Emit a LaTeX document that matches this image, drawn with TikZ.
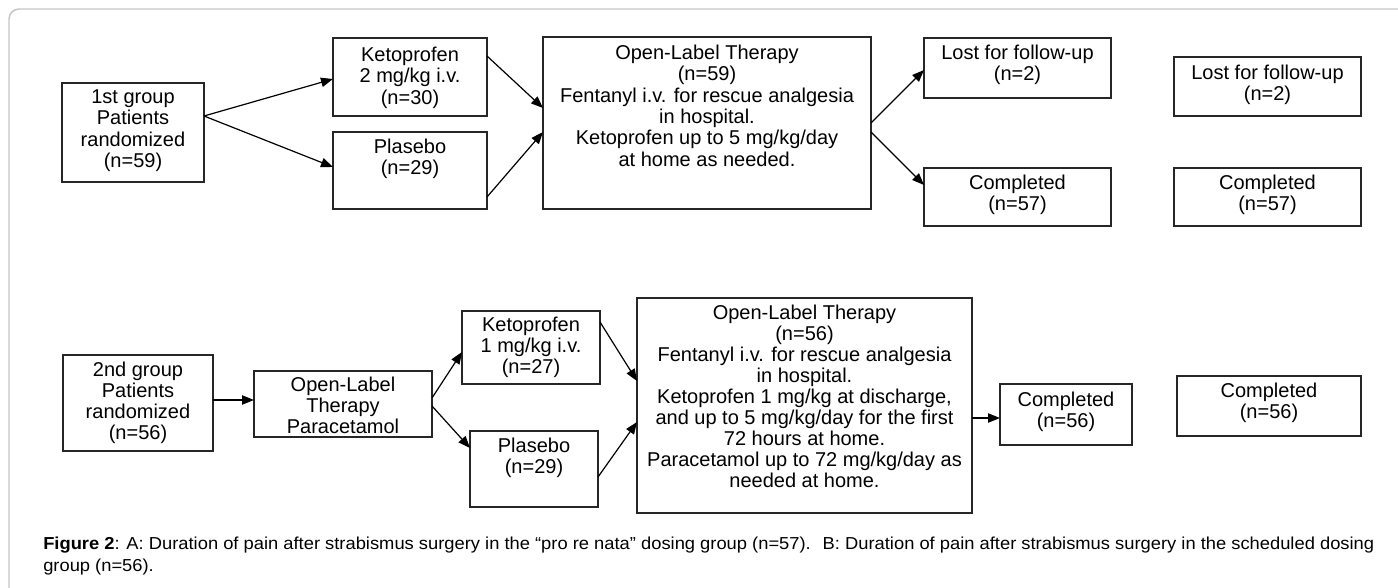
\documentclass[tikz,border=0pt]{standalone}
\usepackage{fontspec}
\setmainfont{Liberation Sans}
\usetikzlibrary{arrows.meta,calc}
\newdimen\p \p=0.75pt
\newcommand{\bxt}[4]{\parbox[c][#2\p][t]{#1\p}{\centering\rule{0pt}{#3\p}#4}}
\newsavebox{\capbox}
\definecolor{framegray}{HTML}{C4C4C4}
\begin{document}
\sbox{\capbox}{\fontsize{13}{15}\selectfont\textbf{Figure 2}: A: Duration of pain after strabismus surgery in the “pro re nata” dosing group (n=57).~ B: Duration of pain after strabismus surgery in the scheduled dosing}%
\pgfmathsetmacro{\capsc}{998.25/\the\wd\capbox}%
\begin{tikzpicture}[x=0.75pt,y=-0.75pt,
  box/.style={draw=black!85, line width=1pt, inner sep=0pt, outer sep=0pt, anchor=north west},
  toprow/.style={font=\fontsize{15}{16}\selectfont},
  botrow/.style={font=\fontsize{15}{15.75}\selectfont},
  arr/.style={draw=black, line width=0.9pt, -{Triangle[length=9pt,width=7pt]}}]
\useasboundingbox (0,0) rectangle (1398,588);
\draw[framegray, line width=1.1pt, rounded corners=7.5pt] (9,588) -- (9,9) -- (1398,9);

% ---- first group ----
\node[box,toprow] (g1) at (62,83) {\bxt{142}{99}{20.5}{1st group\\Patients\\randomized\\(n=59)}};
\node[box,toprow] (k2) at (333,38) {\bxt{154}{78}{23.5}{Ketoprofen\\2 mg/kg i.v.\\(n=30)}};
\node[box,toprow] (pl1) at (333,132) {\bxt{154}{77}{21.5}{Plasebo\\(n=29)}};
\node[box,toprow] (ol1) at (543,37) {\bxt{328}{172}{22.5}{Open-Label Therapy\\(n=59)\\Fentanyl i.v. for rescue analgesia\\in hospital.\\Ketoprofen up to 5 mg/kg/day\\at home as needed.}};
\node[box,toprow] (lo1) at (924,38) {\bxt{187}{60}{21.5}{Lost for follow-up\\(n=2)}};
\node[box,toprow] (c1) at (924,168) {\bxt{187}{58}{21.5}{Completed\\(n=57)}};
\node[box,toprow] (lo2) at (1174,57) {\bxt{187}{59}{22.5}{Lost for follow-up\\(n=2)}};
\node[box,toprow] (c2) at (1174,168) {\bxt{187}{58}{21.5}{Completed\\(n=57)}};

\draw[arr] ($(g1.north east)+(0,33)$) -- ($(k2.north west)+(0,41)$);
\draw[arr] ($(g1.north east)+(0,33)$) -- ($(pl1.north west)+(0,35)$);
\draw[arr] ($(k2.north east)+(0,18)$) -- ($(ol1.north west)+(0,71)$);
\draw[arr] ($(pl1.north east)+(0,65)$) -- ($(ol1.north west)+(0,95)$);
\draw[arr] ($(ol1.north east)+(0,86)$) -- ($(lo1.north west)+(0,32)$);
\draw[arr] ($(ol1.north east)+(0,95)$) -- ($(c1.north west)+(0,17)$);

% ---- second group ----
\node[box,botrow] (g2) at (63,355) {\bxt{150}{96}{21.5}{2nd group\\Patients\\randomized\\(n=56)}};
\node[box,botrow] (olp) at (254,371) {\bxt{178}{66}{20.5}{Open-Label\\Therapy\\Paracetamol}};
\node[box,botrow] (k1) at (462,311) {\bxt{138}{73}{20.5}{Ketoprofen\\1 mg/kg i.v.\\(n=27)}};
\node[box,botrow] (pl2) at (470,431) {\bxt{128}{76}{21.5}{Plasebo\\(n=29)}};
\node[box,botrow] (ol2) at (637,298) {\bxt{335}{215}{21.5}{Open-Label Therapy\\(n=56)\\Fentanyl i.v. for rescue analgesia\\in hospital.\\Ketoprofen 1 mg/kg at discharge,\\and up to 5 mg/kg/day for the first\\72 hours at home.\\Paracetamol up to 72 mg/kg/day as\\needed at home.}};
\node[box,botrow] (c3) at (1000,384) {\bxt{132}{61}{22.5}{Completed\\(n=56)}};
\node[box,botrow] (c4) at (1177,376) {\bxt{184}{60}{21.5}{Completed\\(n=56)}};

\draw[arr] ($(g2.north east)+(0,45)$) -- ($(olp.north west)+(0,29)$);
\draw[arr] ($(olp.north east)+(0,27)$) -- ($(k1.north west)+(0,41)$);
\draw[arr] ($(olp.north east)+(0,35)$) -- ($(pl2.north west)+(0,17)$);
\draw[arr] ($(k1.north east)+(0,11)$) -- ($(ol2.north west)+(0,83)$);
\draw[arr] ($(pl2.north east)+(0,46)$) -- ($(ol2.north west)+(0,124)$);
\draw[arr] ($(ol2.north east)+(0,120)$) -- ($(c3.north west)+(0,34)$);

% ---- caption ----
\node[anchor=base west, inner sep=0pt] (cap1) at (43,549) {\scalebox{\capsc}[1]{\usebox{\capbox}}};
\node[anchor=base west, inner sep=0pt] (cap2) at (43,571) {\scalebox{\capsc}[1]{\fontsize{13}{15}\selectfont group (n=56).}};
\end{tikzpicture}
\end{document}
